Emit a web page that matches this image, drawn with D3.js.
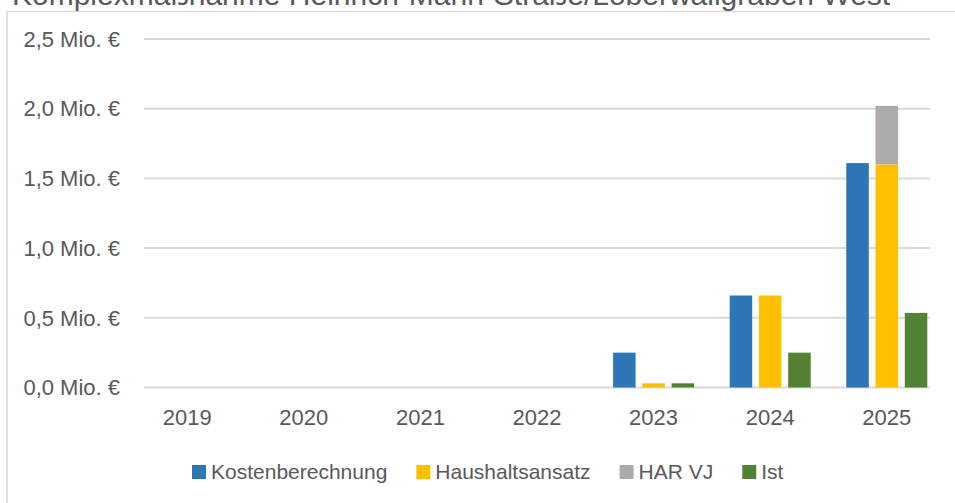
<!DOCTYPE html>
<html>
<head>
<meta charset="utf-8">
<script src="https://cdn.jsdelivr.net/npm/d3@7"></script>
<style>
  body { margin: 0; background: #fff; }
  text { font-family: "Liberation Sans", Arial, sans-serif; fill: #595959; }
</style>
</head>
<body>
<svg width="955" height="503"></svg>
<script>
const years = ["2019", "2020", "2021", "2022", "2023", "2024", "2025"];
const kosten = [0, 0, 0, 0, 0.25, 0.66, 1.61];
const haushalt = [0, 0, 0, 0, 0.03, 0.66, 1.60];
const harVJ = [0, 0, 0, 0, 0, 0, 0.42];
const ist = [0, 0, 0, 0, 0.03, 0.25, 0.535];
const yTicks = [0, 0.5, 1.0, 1.5, 2.0, 2.5];

const seriesNames = ["Kostenberechnung", "Haushaltsansatz", "HAR VJ", "Ist"];
const colors = {
    "Kostenberechnung": "#2E75B6",
    "Haushaltsansatz": "#FFC000",
    "HAR VJ": "#AEAAAA",
    "Ist": "#548235"
};

const svg = d3.select("svg");

// chart frame (only top and left edges are visible)
svg.append("line")
    .attr("x1", 7).attr("x2", 955).attr("y1", 11.5).attr("y2", 11.5)
    .attr("stroke", "#D9D9D9").attr("stroke-width", 1.5);
svg.append("line")
    .attr("x1", 7).attr("x2", 7).attr("y1", 11.5).attr("y2", 503)
    .attr("stroke", "#D9D9D9").attr("stroke-width", 1.5);

// title, cut off at the top
svg.append("text")
    .attr("x", 12).attr("y", 5)
    .attr("font-size", "30px")
    .style("fill", "#595959")
    .text("Komplexmaßnahme Heinrich-Mann-Straße/Löberwallgraben West");

const x = d3.scaleBand()
    .domain(years)
    .range([144, 930])
    .paddingInner(0.305)
    .paddingOuter(0.023);

// position of the three bars in each group (HAR VJ sits on top of Haushaltsansatz)
const xs = d3.scaleBand()
    .domain(["Kostenberechnung", "Haushaltsansatz", "Ist"])
    .range([0, x.bandwidth()])
    .paddingInner(0.23);

const y = d3.scaleLinear()
    .domain([0, 2.5])
    .range([387.5, 39]);

// gridlines
svg.append("g")
    .selectAll("line")
    .data(yTicks)
    .enter().append("line")
    .attr("x1", 144).attr("x2", 930)
    .attr("y1", d => y(d)).attr("y2", d => y(d))
    .attr("stroke", "#D9D9D9")
    .attr("stroke-width", 2);

// y labels
svg.append("g")
    .selectAll("text")
    .data(yTicks)
    .enter().append("text")
    .attr("x", 120)
    .attr("y", d => y(d))
    .attr("dy", "0.35em")
    .attr("text-anchor", "end")
    .attr("font-size", "22px")
    .text(d => d3.format(".1f")(d).replace(".", ",") + " Mio. €");

// x labels
svg.append("g")
    .selectAll("text")
    .data(years)
    .enter().append("text")
    .attr("x", d => x(d) + x.bandwidth() / 2)
    .attr("y", 425)
    .attr("text-anchor", "middle")
    .attr("font-size", "22px")
    .text(d => d);

// bars
const barData = [];
years.forEach((yr, i) => {
    barData.push({ year: yr, s: "Kostenberechnung", slot: "Kostenberechnung", y0: 0, y1: kosten[i] });
    barData.push({ year: yr, s: "Haushaltsansatz", slot: "Haushaltsansatz", y0: 0, y1: haushalt[i] });
    barData.push({ year: yr, s: "HAR VJ", slot: "Haushaltsansatz", y0: haushalt[i], y1: haushalt[i] + harVJ[i] });
    barData.push({ year: yr, s: "Ist", slot: "Ist", y0: 0, y1: ist[i] });
});

svg.append("g")
    .selectAll("rect")
    .data(barData.filter(d => d.y1 > d.y0))
    .enter().append("rect")
    .attr("x", d => x(d.year) + xs(d.slot))
    .attr("width", xs.bandwidth())
    .attr("y", d => y(d.y1))
    .attr("height", d => y(d.y0) - y(d.y1))
    .attr("fill", d => colors[d.s]);

// legend
const legend = svg.append("g").attr("transform", "translate(192,0)");
let lx = 0;
seriesNames.forEach(name => {
    legend.append("rect")
        .attr("x", lx).attr("y", 465)
        .attr("width", 14).attr("height", 14)
        .attr("fill", colors[name]);
    const t = legend.append("text")
        .attr("x", lx + 19).attr("y", 479)
        .attr("font-size", "21px")
        .text(name);
    lx += 19 + t.node().getComputedTextLength() + 29;
});
</script>
</body>
</html>
